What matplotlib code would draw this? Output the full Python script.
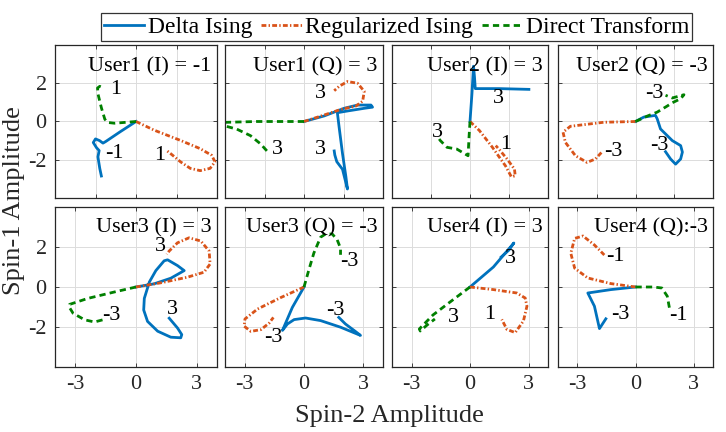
import matplotlib
matplotlib.use("Agg")
import matplotlib.pyplot as plt

plt.rcParams['font.family'] = ['Liberation Serif', 'DejaVu Serif']
plt.rcParams['lines.scale_dashes'] = False

# ---------------- data ----------------
series_names = ["Delta Ising", "Regularized Ising", "Direct Transform"]
panel_titles = ["User1 (I) = -1", "User1 (Q) = 3", "User2 (I) = 3", "User2 (Q) = -3",
                "User3 (I) = 3", "User3 (Q) = -3", "User4 (I) = 3", "User4 (Q):-3"]

# User1 (I)
delta_u1i = [(0, 0), (-0.8, -0.55), (-1.5, -1.05), (-1.63, -1.13), (-1.8, -1.0), (-2.0, -0.91),
             (-2.11, -1.1), (-1.95, -1.37), (-1.82, -1.52), (-1.88, -1.85), (-1.79, -2.45),
             (-1.71, -2.85)]
reg_u1i = [(0, 0), (0.89, -0.45), (2.2, -0.99), (3.17, -1.42), (3.74, -1.77), (3.9, -2.11),
           (3.66, -2.45), (3.17, -2.57), (2.68, -2.45), (2.2, -2.11), (1.71, -1.68), (1.54, -1.54)]
direct_u1i = [(0, 0), (-1.06, -0.09), (-1.4, -0.05), (-1.54, 0.12), (-1.71, 0.72),
              (-1.87, 1.41), (-1.9, 1.75), (-1.79, 1.84), (-1.63, 1.75)]
# User1 (Q)
delta_u1q = [(0, 0), (1.02, 0.29), (2.03, 0.69), (2.71, 0.86), (3.39, 0.86), (3.47, 0.75),
             (3.05, 0.69), (2.2, 0.55), (1.69, 0.46), (1.78, -0.31), (1.95, -1.68),
             (2.12, -2.88), (2.2, -3.53), (1.95, -2.5), (1.66, -2.1), (1.56, -1.75), (1.53, -1.54)]
reg_u1q = [(0, 0), (1.02, 0.34), (1.86, 0.63), (2.63, 0.81), (2.97, 1.06), (3.05, 1.58),
           (2.71, 2.0), (2.2, 2.09), (1.78, 1.84), (1.53, 1.61)]
direct_u1q = [(0, 0), (-2.4, 0.0), (-4.2, -0.05), (-4.3, -0.15), (-3.4, -0.4), (-2.71, -0.74),
              (-2.2, -1.17), (-1.78, -1.65)]
# User2 (I)
delta_u2i = [(0, 0), (0.1, 1.46), (0.18, 2.89), (0.23, 2.33), (0.27, 1.72), (1.48, 1.72),
             (3.02, 1.68)]
reg_u2i = [(0, 0), (0.48, -0.47), (1.15, -1.35), (1.82, -2.32), (2.12, -2.89), (2.32, -2.84),
           (2.28, -2.49), (1.9, -1.96), (1.48, -1.44), (1.32, -1.26)]
direct_u2i = [(0, 0), (-0.05, -0.82), (-0.1, -1.79), (-0.68, -1.44), (-1.18, -1.35),
              (-1.52, -1.0), (-1.65, -0.82)]
# User2 (Q)
delta_u2q = [(0, 0), (0.43, 0.23), (1.03, 0.32), (1.12, 0.14), (1.29, -0.39), (1.9, -1.0),
             (2.33, -1.26), (2.42, -1.6), (2.33, -1.96), (2.07, -2.23), (1.81, -1.96), (1.55, -1.58)]
reg_u2q = [(0, 0), (-1.64, -0.04), (-3.36, -0.25), (-3.74, -0.56), (-3.62, -1.09),
           (-3.1, -1.79), (-2.5, -2.14), (-2.07, -1.96), (-1.72, -1.58)]
direct_u2q = [(0, 0), (0.6, 0.28), (1.12, 0.49), (1.64, 0.81), (1.9, 0.98), (2.33, 1.19),
              (2.5, 1.4), (1.9, 1.23), (1.55, 1.37)]
# User3 (I)
delta_u3i = [(0, 0), (0.9, 0.16), (1.72, 0.44), (2.38, 0.82), (2.05, 1.07), (1.56, 1.36),
             (1.39, 1.31), (0.98, 0.82), (0.66, 0.25), (0.41, -0.57), (0.38, -1.15),
             (0.57, -1.72), (1.07, -2.21), (1.72, -2.51), (2.21, -2.54), (2.26, -2.38),
             (2.05, -2.05), (1.64, -1.56)]
reg_u3i = [(0, 0), (1.23, 0.21), (2.54, 0.49), (3.36, 0.74), (3.66, 1.15), (3.61, 1.8),
           (3.2, 2.3), (2.62, 2.46), (2.05, 2.21), (1.64, 1.8), (1.52, 1.64)]
direct_u3i = [(0, 0), (-1.07, -0.25), (-2.38, -0.57), (-3.28, -0.87), (-3.3, -1.0),
              (-3.11, -1.31), (-2.54, -1.64), (-2.05, -1.75), (-1.64, -1.64), (-1.56, -1.52)]
# User3 (Q)
delta_u3q = [(0, 0), (-0.59, -1.02), (-1.09, -2.17), (-0.84, -1.85), (-0.5, -1.63),
             (0.08, -1.55), (0.84, -1.68), (1.85, -2.01), (2.86, -2.42), (2.6, -2.22),
             (2.1, -1.85), (1.76, -1.52)]
reg_u3q = [(0, 0), (-1.18, -0.53), (-2.35, -1.1), (-2.99, -1.6), (-3.03, -1.96),
           (-2.69, -2.22), (-2.18, -2.13), (-1.76, -1.8), (-1.55, -1.52)]
direct_u3q = [(0, 0), (0.25, 0.87), (0.5, 1.7), (0.84, 2.49), (1.09, 2.65), (1.43, 2.65),
              (1.68, 2.36), (1.85, 1.94), (1.85, 1.61)]
# User4 (I)
delta_u4i = [(0, 0), (1.2, 1.0), (2.25, 2.2), (2.0, 1.85), (1.6, 1.5)]
reg_u4i = [(0, 0), (1.2, -0.13), (2.4, -0.3), (2.83, -0.55), (2.92, -0.96), (2.74, -1.7),
           (2.32, -2.28), (1.89, -2.12), (1.63, -1.62)]
direct_u4i = [(0, 0), (-0.86, -0.63), (-1.9, -1.4), (-2.6, -2.1), (-2.55, -2.2),
              (-2.2, -1.9), (-1.8, -1.6)]
# User4 (Q)
delta_u4q = [(0, 0), (-1.27, -0.13), (-2.46, -0.3), (-2.12, -0.96), (-1.86, -2.08),
             (-1.53, -1.59)]
reg_u4q = [(0, 0), (-1.27, 0.17), (-2.46, 0.45), (-3.14, 0.94), (-3.34, 1.69), (-3.14, 2.43),
           (-2.71, 2.55), (-2.12, 2.1), (-1.61, 1.6)]
direct_u4q = [(0, 0), (0.93, 0.0), (1.36, -0.05), (1.64, -0.46), (1.78, -1.2)]

# end-point annotations: (text, x, y)
labels_u1i = [("1", -0.98, 1.66), ("-1", -1.06, -1.68), ("1", 1.19, -1.77)]
labels_u1q = [("3", 0.85, 1.44), ("3", -1.36, -1.48), ("3", 0.85, -1.48)]
labels_u2i = [("3", 1.48, 1.19), ("3", -1.68, -0.56), ("1", 1.82, -1.18)]
labels_u2q = [("-3", 0.95, 1.46), ("-3", -1.12, -1.58), ("-3", 1.21, -1.26)]
labels_u3i = [("3", 1.2, 2.05), ("-3", -1.23, -1.44), ("3", 1.8, -1.1)]
labels_u3q = [("-3", 2.27, 1.28), ("-3", 1.6, -1.19), ("-3", -1.55, -2.55)]
labels_u4i = [("3", 2.06, 1.44), ("3", -0.86, -1.54), ("1", 1.03, -1.37)]
labels_u4q = [("-1", -1.02, 1.52), ("-3", -0.76, -1.37), ("-1", 2.2, -1.45)]

delta_all = [delta_u1i, delta_u1q, delta_u2i, delta_u2q, delta_u3i, delta_u3q, delta_u4i, delta_u4q]
reg_all = [reg_u1i, reg_u1q, reg_u2i, reg_u2q, reg_u3i, reg_u3q, reg_u4i, reg_u4q]
direct_all = [direct_u1i, direct_u1q, direct_u2i, direct_u2q, direct_u3i, direct_u3q, direct_u4i, direct_u4q]
labels_all = [labels_u1i, labels_u1q, labels_u2i, labels_u2q, labels_u3i, labels_u3q, labels_u4i, labels_u4q]

row1_xticks = [-2, 0, 2]
row2_xticks = [-3, 0, 3]
yticks = [-2, 0, 2]

# ---------------- figure ----------------
W, H = 726, 432
fig = plt.figure(figsize=(W / 100, H / 100), dpi=100)

col_px = [(55, 217), (225, 383), (392, 548), (558, 713)]
row_px = [(45, 198), (207, 367)]

colors = ["#0072BD", "#D95319", "#008000"]
styles = ["-", (0, (3.5, 1.6, 1.0, 1.6)), (0, (4.5, 3.0))]

handles = None
for i in range(8):
    r, c = divmod(i, 4)
    x0, x1 = col_px[c]
    y0, y1 = row_px[r]
    ax = fig.add_axes([x0 / W, 1 - y1 / H, (x1 - x0) / W, (y1 - y0) / H])
    hs = []
    for data, col, ls, name in zip([delta_all[i], reg_all[i], direct_all[i]], colors, styles, series_names):
        xs = [p[0] for p in data]
        ys = [p[1] for p in data]
        h, = ax.plot(xs, ys, color=col, linestyle=ls, lw=2.0, label=name,
                     solid_joinstyle='round', dash_joinstyle='round')
        hs.append(h)
    if handles is None:
        handles = hs
    for t, lx, ly in labels_all[i]:
        ax.text(lx, ly, t, fontsize=16, ha='center', va='center')
    ty = 0.83 if r == 0 else 0.84
    ax.text(0.967, ty, panel_titles[i], transform=ax.transAxes, ha='right', va='baseline',
            fontsize=16)
    ax.set_xlim(-4, 4)
    ax.set_ylim(-4, 4)
    ax.set_xticks(row1_xticks if r == 0 else row2_xticks)
    ax.set_yticks(yticks)
    ax.grid(True, color='#DCDCDC', lw=0.7)
    ax.set_axisbelow(True)
    ax.tick_params(direction='in', length=3, width=0.6, top=True, right=True,
                   labelsize=16, pad=6, colors='#262626')
    if r == 0:
        ax.set_xticklabels([])
    else:
        ax.set_xticklabels([str(v) for v in row2_xticks])
    if c == 0:
        ax.set_yticklabels([str(v) for v in yticks])
    else:
        ax.set_yticklabels([])
    for s in ax.spines.values():
        s.set_color('#262626')
        s.set_linewidth(0.9)

fig.text(389 / W, 1 - 416 / H, "Spin-2 Amplitude", ha='center', va='center', fontsize=19,
         color='#262626')
fig.text(14 / W, 1 - 201 / H, "Spin-1 Amplitude", ha='center', va='center', rotation=90,
         fontsize=19, color='#262626')

leg = fig.legend(handles, series_names, loc='center', bbox_to_anchor=(396.7 / W, 1 - 27 / H),
                 ncol=3, fontsize=17, frameon=True, fancybox=False, edgecolor='black',
                 handlelength=1.7, handletextpad=0.15, columnspacing=0.38, borderpad=0.12,
                 borderaxespad=0.0)
leg.get_frame().set_linewidth(0.9)

fig.savefig("out.png", dpi=100)
